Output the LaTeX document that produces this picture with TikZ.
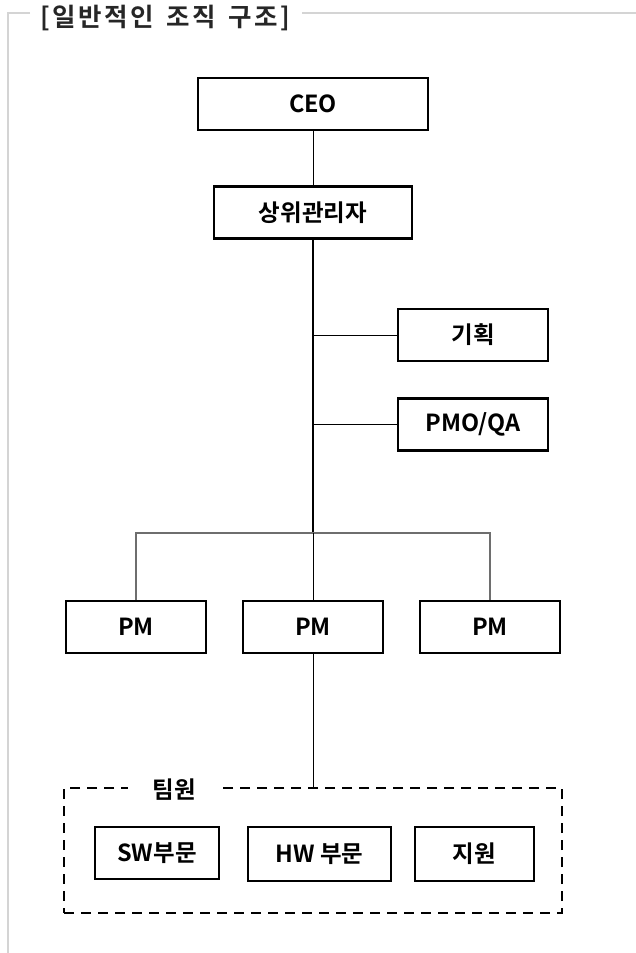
\documentclass[tikz,border=0pt]{standalone}
\usepackage{fontspec}
\setmainfont{Noto Sans CJK KR}[BoldFont={Noto Sans CJK KR Bold}]
\newfontfamily\titlefont{Noto Sans CJK KR Bold}[LetterSpace=10,WordSpace=1.5]
\usetikzlibrary{calc}
\definecolor{framegrey}{HTML}{D4D4D4}
\definecolor{bargrey}{HTML}{6E6E6E}
\begin{document}
\begin{tikzpicture}[x=1pt,y=-1pt,
  orgbox/.style={draw=black,line width=2.6pt,rectangle,inner sep=0pt,minimum height=52pt,
    font=\fontsize{23.5}{26}\selectfont\bfseries,fill=white},
  thinline/.style={line width=1pt,black},
  spine/.style={line width=2.2pt,black},
  barline/.style={line width=1.6pt,bargrey},
  teambox/.style={draw=black,line width=2.6pt,dash pattern=on 10pt off 7pt,rectangle,inner sep=0pt},
  framestyle/.style={line width=1.6pt,framegrey}
]
\useasboundingbox (0,0) rectangle (636,953);
% frame
\node[font=\titlefont\fontsize{25.5}{27}\selectfont,text=black!85,inner sep=0pt,anchor=west] (title) at (40,18) {[일반적인 조직 구조]};
\draw[framestyle] ($(title.west)+(-10,-5)$) -- (8,13) -- (8,953);
\draw[framestyle] ($(title.east)+(12,-5)$) -- (636,13);
% nodes
\node[orgbox,minimum width=230pt] (ceo) at (313,104) {CEO};
\node[orgbox,minimum width=198pt] (mgr) at (313,212.5) {상위관리자};
\node[orgbox,minimum width=150pt] (plan) at (473,335) {기획};
\node[orgbox,minimum width=150pt] (pmo) at (473,424.5) {PMO/QA};
\node[orgbox,minimum width=140pt] (pm1) at (136,627) {PM};
\node[orgbox,minimum width=140pt] (pm2) at (313,627) {PM};
\node[orgbox,minimum width=140pt] (pm3) at (490,627) {PM};
\node[teambox,minimum width=498pt,minimum height=125pt] (team) at (313,850.5) {};
\node[fill=white,inner xsep=24pt,inner ysep=2pt,font=\fontsize{23.5}{26}\selectfont\bfseries] (teamlbl) at (174,790) {팀원};
\node[orgbox,minimum width=124pt] (sw) at (157,853) {SW부문};
\node[orgbox,minimum width=143pt,minimum height=54pt] (hw) at (319.5,854) {HW 부문};
\node[orgbox,minimum width=119pt,minimum height=54pt] (sup) at (474.5,854) {지원};
\coordinate (bar) at (313,533);
% connectors
\draw[thinline] (ceo.south) -- (mgr.north);
\draw[spine] (mgr.south) -- (bar);
\draw[thinline] (mgr.south |- plan.west) -- (plan.west);
\draw[thinline] (mgr.south |- pmo.west) -- (pmo.west);
\draw[barline] (pm1.north) -- (pm1.north |- bar) -- (pm3.north |- bar) -- (pm3.north);
\draw[thinline] (bar) -- (pm2.north);
\draw[thinline] (pm2.south) -- (team.north);
\end{tikzpicture}
\end{document}
